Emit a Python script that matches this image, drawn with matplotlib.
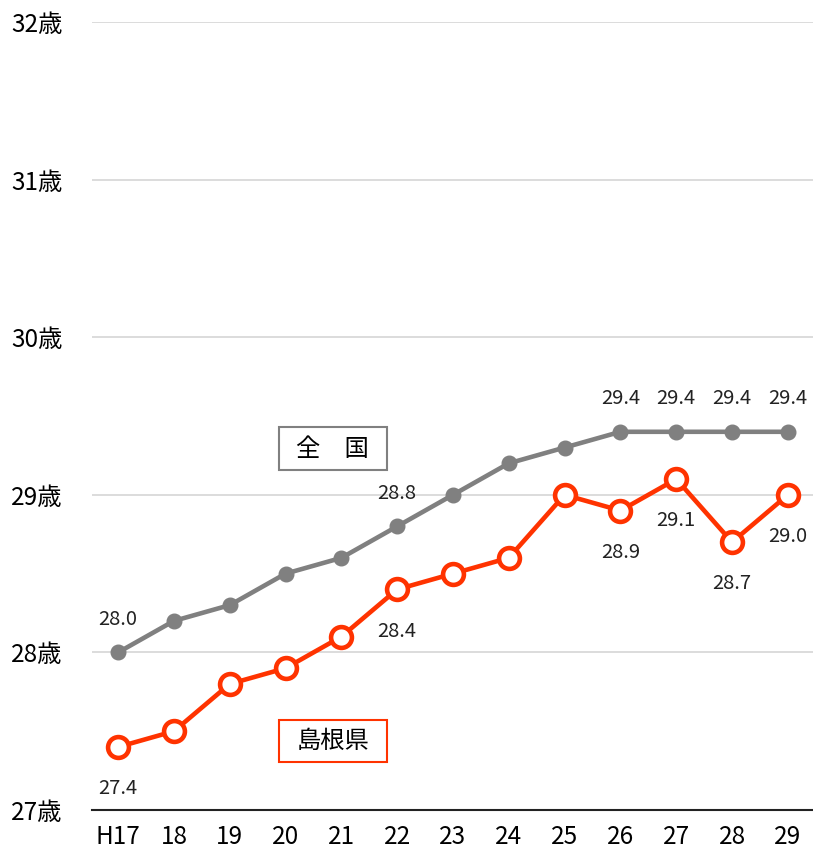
import matplotlib
matplotlib.use('Agg')
import matplotlib.pyplot as plt
from matplotlib.patches import Rectangle

plt.rcParams['font.family'] = ['Noto Sans CJK JP', 'DejaVu Sans']

years = ['H17', '18', '19', '20', '21', '22', '23', '24', '25', '26', '27', '28', '29']
zenkoku = [28.0, 28.2, 28.3, 28.5, 28.6, 28.8, 29.0, 29.2, 29.3, 29.4, 29.4, 29.4, 29.4]
shimane = [27.4, 27.5, 27.8, 27.9, 28.1, 28.4, 28.5, 28.6, 29.0, 28.9, 29.1, 28.7, 29.0]
yticks = [27, 28, 29, 30, 31, 32]

# which points get a value label
zen_lab = [0, 5, 9, 10, 11, 12]
shi_lab = [0, 5, 9, 10, 11, 12]

gray = '#808080'
red = '#FF3300'

fig = plt.figure(figsize=(8.13, 8.57), dpi=100)
ax = fig.add_axes([0.113, 0.0548, 0.887, 0.9195])

x = list(range(len(years)))
ax.plot(x, zenkoku, color=gray, lw=3.3, marker='o', ms=10.5, mfc=gray, mec=gray, zorder=3)
ax.plot(x, shimane, color=red, lw=3.3, marker='o', ms=15, mfc='white', mec=red, mew=3.3, zorder=4)

for i in zen_lab:
    ax.annotate('%.1f' % zenkoku[i], (i, zenkoku[i]), xytext=(0, 24), textcoords='offset points',
                ha='center', va='center', fontsize=14.5, color='#222222')
for i in shi_lab:
    ax.annotate('%.1f' % shimane[i], (i, shimane[i]), xytext=(0, -30), textcoords='offset points',
                ha='center', va='center', fontsize=14.5, color='#222222')

# legend-like boxes
ax.add_patch(Rectangle((2.88, 29.157), 1.93, 0.273, fill=False, ec=gray, lw=1.5, zorder=5))
ax.text(3.845, 29.29, '全\u3000国', ha='center', va='center', fontsize=17.5, zorder=6)
ax.add_patch(Rectangle((2.88, 27.305), 1.93, 0.266, fill=False, ec=red, lw=1.5, zorder=5))
ax.text(3.845, 27.44, '島根県', ha='center', va='center', fontsize=17.5, zorder=6)

ax.set_xlim(-0.47, 12.45)
ax.set_ylim(27, 32)
ax.set_yticks(yticks)
ax.set_yticklabels(['%d歳' % v for v in yticks], fontsize=17.5)
ax.set_xticks(x)
ax.set_xticklabels(years, fontsize=17.5)
ax.yaxis.grid(True, color='#d9d9d9', lw=1.3)
ax.set_axisbelow(True)
for s in ['top', 'right', 'left']:
    ax.spines[s].set_visible(False)
ax.spines['bottom'].set_color('#222222')
ax.spines['bottom'].set_linewidth(1.5)
ax.tick_params(length=0, pad=10)
ax.tick_params(axis='y', pad=21)

fig.savefig('out.png', dpi=100)
